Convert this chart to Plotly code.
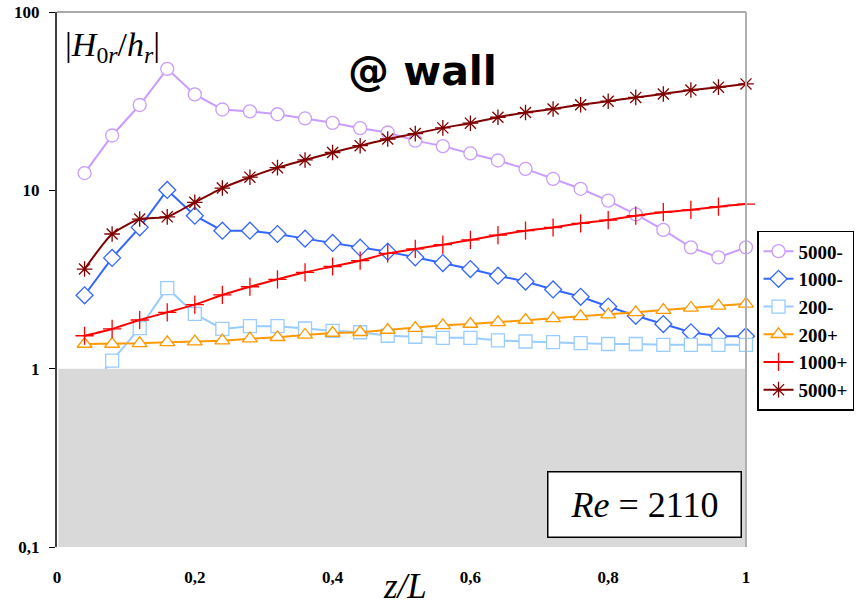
import math
import plotly.graph_objects as go

# Position along the pipe, z/L
z = [0.04, 0.08, 0.12, 0.16, 0.20, 0.24, 0.28, 0.32, 0.36, 0.40, 0.44, 0.48, 0.52,
     0.56, 0.60, 0.64, 0.68, 0.72, 0.76, 0.80, 0.84, 0.88, 0.92, 0.96, 1.00]

# |H0r/hr| at the wall for each perturbation case
s5000m = [12.5, 20.3, 30.1, 48.0, 34.5, 28.4, 27.7, 26.7, 25.3, 23.9, 22.3, 21.1, 19.0,
          17.7, 16.1, 14.7, 13.2, 11.6, 10.2, 8.75, 7.33, 6.0, 4.79, 4.21, 4.79]
s1000m = [2.58, 4.18, 6.2, 10.05, 7.21, 5.94, 5.94, 5.69, 5.36, 5.07, 4.77, 4.53, 4.21,
          3.91, 3.62, 3.32, 3.08, 2.78, 2.53, 2.23, 1.98, 1.78, 1.60, 1.52, 1.52]
s200m = [0.7, 1.11, 1.69, 2.83, 2.03, 1.67, 1.73, 1.73, 1.68, 1.63, 1.60, 1.53, 1.51,
         1.49, 1.49, 1.44, 1.42, 1.41, 1.39, 1.375, 1.375, 1.36, 1.36, 1.36, 1.36]
s200p = [1.375, 1.375, 1.387, 1.405, 1.417, 1.436, 1.473, 1.50, 1.545, 1.585, 1.60, 1.648, 1.69,
         1.75, 1.78, 1.82, 1.875, 1.915, 1.965, 2.01, 2.07, 2.13, 2.19, 2.25, 2.31]
s1000p = [1.53, 1.67, 1.875, 2.07, 2.285, 2.59, 2.88, 3.17, 3.47, 3.74, 4.03, 4.43, 4.69,
          4.96, 5.27, 5.61, 5.94, 6.19, 6.53, 6.81, 7.21, 7.54, 7.77, 8.1, 8.37]
s5000p = [3.62, 5.69, 6.9, 7.1, 8.57, 10.3, 11.85, 13.4, 14.8, 16.3, 17.8, 19.4, 20.8,
          22.4, 23.8, 25.7, 27.3, 28.6, 30.2, 31.6, 33.2, 34.7, 36.5, 37.9, 39.5]

y_ticks = [0.1, 1, 10, 100]
y_tick_text = ["0,1", "1", "10", "100"]
x_ticks = [0, 0.2, 0.4, 0.6, 0.8, 1]
x_tick_text = ["0", "0,2", "0,4", "0,6", "0,8", "1"]
threshold = 1.0  # region below |H0r/hr| = 1 is shaded
y_min, y_max = 0.1, 100

serif = "Liberation Serif"

series = [
    ("5000-", s5000m, "#C99CFF", "circle", "white", "linear"),
    ("1000-", s1000m, "#3366FF", "diamond", "white", "linear"),
    ("200-", s200m, "#99CCFF", "square", "white", "linear"),
    ("200+", s200p, "#FF9900", "triangle-up", "white", "linear"),
    ("1000+", s1000p, "#FF0000", "cross-thin", "#FF0000", "spline"),
    ("5000+", s5000p, "#800000", "asterisk", "#800000", "spline"),
]

fig = go.Figure()
for name, vals, col, sym, fill, shape in series:
    fig.add_trace(go.Scatter(
        x=z, y=vals, name=name, mode="lines+markers",
        line=dict(color=col, width=2, shape=shape, smoothing=0.6),
        marker=dict(symbol=sym, size=13, color=fill, line=dict(color=col, width=1.3)),
        cliponaxis=False,
    ))

frac_thr = (math.log10(threshold) - math.log10(y_min)) / (math.log10(y_max) - math.log10(y_min))

shapes = [
    dict(type="rect", xref="paper", yref="paper", x0=0.002, x1=1, y0=0, y1=frac_thr,
         fillcolor="#D9D9D9", line=dict(width=0), layer="above"),
    dict(type="line", xref="paper", yref="paper", x0=0, x1=1, y0=1, y1=1,
         line=dict(color="#8C8C8C", width=1.5)),
    dict(type="line", xref="paper", yref="paper", x0=1, x1=1, y0=0, y1=1,
         line=dict(color="#B0B0B0", width=2)),
]

annotations = [
    dict(xref="paper", yref="paper", x=0.008, y=0.935, xanchor="left", yanchor="middle",
         text="|<i>H</i><sub>0<i>r</i></sub>/<i>h</i><sub><i>r</i></sub>|",
         showarrow=False, font=dict(family=serif, size=34, color="black")),
    dict(xref="paper", yref="paper", x=0.531, y=0.89, xanchor="center", yanchor="middle",
         text="@ wall", showarrow=False,
         font=dict(family="DejaVu Sans", size=41, color="black", weight="bold")),
    dict(xref="paper", yref="paper", x=0.853, y=0.079, xanchor="center", yanchor="middle",
         text="<i>Re</i> = 2110", showarrow=False,
         font=dict(family=serif, size=36, color="black"),
         bgcolor="white", bordercolor="black", borderwidth=1.5,
         width=190, height=62),
    dict(xref="paper", yref="paper", x=0.505, y=-0.072, xanchor="center", yanchor="middle",
         text="<i>z/L</i>", showarrow=False, height=36,
         font=dict(family=serif, size=35, color="black")),
]

fig.update_layout(
    width=859, height=606,
    margin=dict(l=57, r=113, t=12, b=59, autoexpand=False),
    paper_bgcolor="white", plot_bgcolor="white",
    showlegend=True,
    legend=dict(x=1.016, y=0.591, xanchor="left", yanchor="top",
                bordercolor="black", borderwidth=1.5, bgcolor="white",
                font=dict(family=serif, size=19, color="black", weight="bold"),
                itemwidth=30, tracegroupgap=0),
    shapes=shapes,
    annotations=annotations,
)

fig.update_xaxes(range=[0, 1], tickmode="array", tickvals=x_ticks, ticktext=x_tick_text,
                 showline=False, showgrid=False, zeroline=False, ticks="",
                 ticklabelstandoff=18,
                 tickfont=dict(family=serif, size=17, color="black", weight="bold"))
fig.update_yaxes(type="log", range=[math.log10(y_min), math.log10(y_max)],
                 tickmode="array", tickvals=y_ticks, ticktext=y_tick_text,
                 showline=True, linecolor="#404040", linewidth=2,
                 ticks="outside", ticklen=6, tickcolor="black", tickwidth=1.2,
                 showgrid=False, zeroline=False, ticklabelstandoff=6,
                 tickfont=dict(family=serif, size=17, color="black", weight="bold"))

fig.write_html("out.html")
